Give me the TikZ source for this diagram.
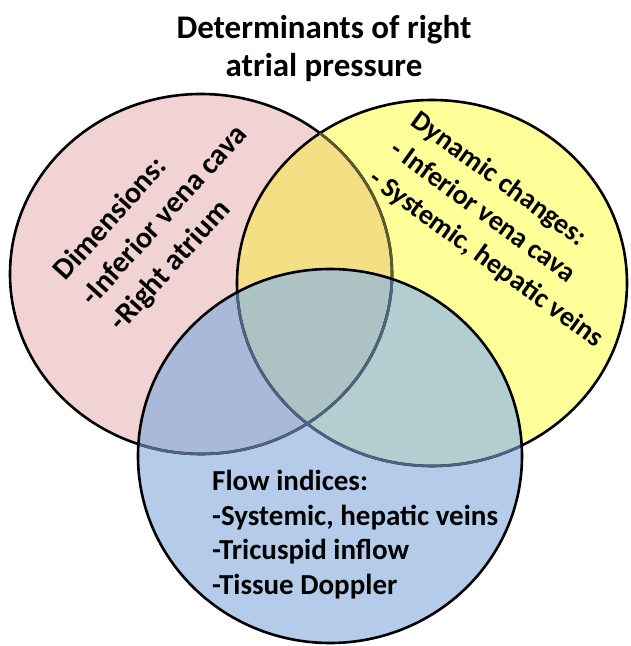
\documentclass[tikz,border=0pt]{standalone}
\usepackage{fontspec}
\setmainfont{Carlito}
\usepackage{tikz}
\definecolor{dimfill}{HTML}{F2D3D4}
\definecolor{dynfill}{HTML}{FFFF99}
\definecolor{flowfill}{HTML}{B4CCEA}
\definecolor{dimdyn}{HTML}{F5DF85}
\definecolor{dimflow}{HTML}{AAB9DA}
\definecolor{dynflow}{HTML}{B2CED0}
\definecolor{allthree}{HTML}{ADC2C3}
\definecolor{rimolive}{HTML}{5C5A2E}
\definecolor{rimslate}{HTML}{4B6482}

\begin{document}
\begin{tikzpicture}[x=1pt, y=1pt]
  \tikzstyle{heading}=[font=\fontsize{33}{38}\selectfont\bfseries, align=center, inner sep=0pt]
  \tikzstyle{setlabel}=[font=\bfseries, align=left, inner sep=0pt]
  \tikzstyle{rim}=[line width=2.6pt]
  \tikzstyle{dimset}=[insert path={(201,372) ellipse [x radius=191, y radius=180]}]
  \tikzstyle{dynset}=[insert path={(432,363) ellipse [x radius=195, y radius=183]}]
  \tikzstyle{flowset}=[insert path={(330,190) ellipse [x radius=192, y radius=187]}]
  \useasboundingbox (0,0) rectangle (630,646);
  % the three sets
  \fill[dimfill, dimset];
  \fill[dynfill, dynset];
  \fill[flowfill, flowset];
  % overlaps
  \begin{scope}
    \clip[dimset];
    \fill[dimdyn, dynset];
    \fill[dimflow, flowset];
  \end{scope}
  \begin{scope}
    \clip[dynset];
    \fill[dynflow, flowset];
    \clip[dimset];
    \fill[allthree, flowset];
  \end{scope}
  % outlines, muted where seen through the upper sets
  \draw[rim, dimset];
  \draw[rim, dynset];
  \begin{scope}
    \clip[dynset];
    \draw[rim, rimolive, dimset];
  \end{scope}
  \begin{scope}
    \clip[flowset];
    \draw[rim, rimslate, dimset];
    \draw[rim, rimslate, dynset];
  \end{scope}
  \draw[rim, flowset];
  % labels
  \node[heading] (title) at (324,597) {Determinants of right\\atrial pressure};
  \node[setlabel, font=\fontsize{30}{38}\selectfont\bfseries, rotate=48] (dims) at (165,430)
    {Dimensions:\\-Inferior vena cava\\-Right atrium};
  \node[setlabel, font=\fontsize{28}{36}\selectfont\bfseries, rotate=-36] (dyn) at (507,416)
    {Dynamic changes:\\- Inferior vena cava\\- Systemic, hepatic veins};
  \node[setlabel, font=\fontsize{29}{34.5}\selectfont\bfseries, anchor=north west] (flow) at (212,176)
    {Flow indices:\\-Systemic, hepatic veins\\-Tricuspid inflow\\-Tissue Doppler};
\end{tikzpicture}
\end{document}
